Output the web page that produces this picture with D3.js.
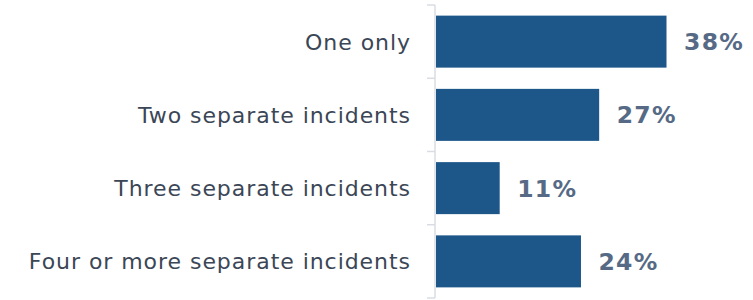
<!DOCTYPE html>
<html>
<head>
<meta charset="utf-8">
<script src="https://cdn.jsdelivr.net/npm/d3@7"></script>
<style>
  body { margin: 0; background: #fff; }
  svg { display: block; }
</style>
</head>
<body>
<svg id="chart"></svg>
<script>
const width = 753;
const height = 300;
const categories = ["One only", "Two separate incidents", "Three separate incidents", "Four or more separate incidents"];
// bar lengths (labels are rounded)
const values = [38, 26.9, 10.5, 23.9];
const labels = ["38%", "27%", "11%", "24%"];

const margin = {top: 5, right: 0, bottom: 2, left: 435};

const svg = d3.select('#chart').attr('width', width).attr('height', height);

const x = d3.scaleLinear().domain([0, 38]).range([margin.left + 1, 666.5]);
const y = d3.scaleBand().domain(categories).range([margin.top, height - margin.bottom]).paddingInner(0.29).paddingOuter(0.145);

// axis line + ticks
const g = svg.append('g');
g.append('line')
    .attr('x1', margin.left).attr('x2', margin.left)
    .attr('y1', margin.top).attr('y2', height - margin.bottom)
    .style('stroke', '#d9dde3').style('stroke-width', 1.5);

const edges = categories.map(c => y(c) - y.step() * y.paddingInner() / 2);
edges.push(height - margin.bottom);
edges[0] = margin.top;
g.selectAll('line.tick')
    .data(edges)
    .join('line')
    .classed('tick', true)
    .attr('x1', margin.left - 8).attr('x2', margin.left)
    .attr('y1', d => d).attr('y2', d => d)
    .style('stroke', '#d9dde3').style('stroke-width', 1.5);

// Bars
svg.append('g')
    .selectAll('rect')
    .data(values)
    .join('rect')
    .attr('x', x(0))
    .attr('y', (d, i) => y(categories[i]))
    .attr('width', d => x(d) - x(0))
    .attr('height', y.bandwidth())
    .style('fill', '#1d5789');

// Category labels
svg.append('g')
    .selectAll('text')
    .data(categories)
    .join('text')
    .attr('x', margin.left - 24)
    .attr('y', d => y(d) + y.bandwidth() / 2)
    .attr('dy', '0.36em')
    .attr('text-anchor', 'end')
    .style('font-family', 'DejaVu Sans, Verdana, sans-serif')
    .style('font-size', '22px')
    .style('letter-spacing', '0.95px')
    .style('fill', '#3b4656')
    .text(d => d);

// Value labels
svg.append('g')
    .selectAll('text')
    .data(values)
    .join('text')
    .attr('x', d => x(d) + 17.5)
    .attr('y', (d, i) => y(categories[i]) + y.bandwidth() / 2)
    .attr('dy', '0.36em')
    .style('font-family', 'DejaVu Sans, Verdana, sans-serif')
    .style('font-size', '23.5px')
    .style('font-weight', 'bold')
    .style('letter-spacing', '1.3px')
    .style('fill', '#566a86')
    .text((d, i) => labels[i]);
</script>
</body>
</html>
